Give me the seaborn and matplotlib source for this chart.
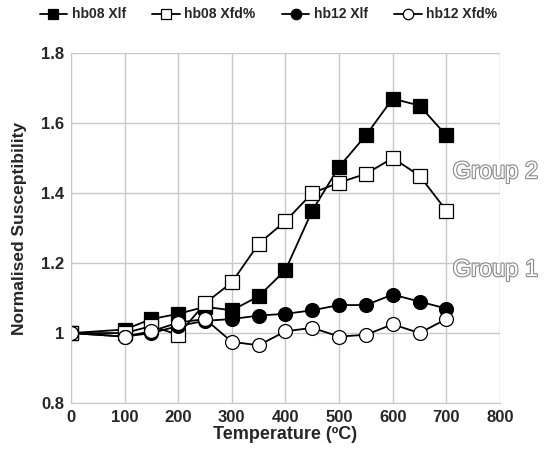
import seaborn as sns
import pandas as pd
import matplotlib.pyplot as plt
import matplotlib.patheffects as pe
from matplotlib import font_manager

# Temperaturas e valores
temps = [0, 100, 150, 200, 250, 300, 350, 400, 450, 500, 550, 600, 650, 700]
hb08_xlf = [1.0, 1.01, 1.04, 1.055, 1.075, 1.065, 1.105, 1.18, 1.35, 1.475, 1.565, 1.67, 1.65, 1.565]
hb08_xfd = [1.0, 1.0, 1.02, 0.995, 1.085, 1.145, 1.255, 1.32, 1.40, 1.43, 1.455, 1.50, 1.45, 1.35]
hb12_xlf = [1.0, 0.99, 1.0, 1.02, 1.035, 1.04, 1.05, 1.055, 1.065, 1.08, 1.08, 1.11, 1.09, 1.07]
hb12_xfd = [1.0, 0.99, 1.005, 1.03, 1.04, 0.975, 0.965, 1.005, 1.015, 0.99, 0.995, 1.025, 1.0, 1.04]

series_names = ['hb08 Xlf', 'hb08 Xfd%', 'hb12 Xlf', 'hb12 Xfd%']
x_ticks = [0, 100, 200, 300, 400, 500, 600, 700, 800]
y_ticks = [0.8, 1.0, 1.2, 1.4, 1.6, 1.8]
y_labels = ['0.8', '1', '1.2', '1.4', '1.6', '1.8']

sns.set_style('white')
plt.rcParams['font.family'] = ['Liberation Sans', 'DejaVu Sans']
plt.rcParams['font.weight'] = 'bold'

# Fonte estreita para os rótulos dos grupos, se existir
nomes_fontes = {f.name for f in font_manager.fontManager.ttflist}
fonte_grupo = 'Liberation Sans Narrow' if 'Liberation Sans Narrow' in nomes_fontes else 'Liberation Sans'

fig = plt.figure(figsize=(5.44, 4.58), dpi=100)
ax = fig.add_axes([0.1305, 0.12, 0.7885, 0.764])

estilos = [
    (hb08_xlf, 's', 'black', 10),
    (hb08_xfd, 's', 'white', 10),
    (hb12_xlf, 'o', 'black', 10),
    (hb12_xfd, 'o', 'white', 10),
]
for nome, (vals, m, fc, ms) in zip(series_names, estilos):
    dados = pd.DataFrame({'temp': temps, 'val': vals})
    sns.lineplot(x='temp', y='val', data=dados, ax=ax, color='black', linewidth=1.3,
                 marker=m, markersize=ms, markerfacecolor=fc, markeredgecolor='black',
                 markeredgewidth=0.9, label=nome)

ax.set_xlim(0, 800)
ax.set_ylim(0.8, 1.8)
ax.set_xticks(x_ticks)
ax.set_yticks(y_ticks)
ax.set_yticklabels(y_labels)
ax.grid(True, color='#c8c8c8', linewidth=1)
ax.tick_params(axis='both', labelsize=12, length=0, pad=5)
for lab in ax.get_xticklabels() + ax.get_yticklabels():
    lab.set_fontweight('bold')
for s in ['top', 'right']:
    ax.spines[s].set_visible(False)
ax.spines['left'].set_color('#c8c8c8')
ax.spines['bottom'].set_color('#c8c8c8')
ax.set_xlabel('Temperature (ºC)', fontsize=13, fontweight='bold', labelpad=1)
ax.set_ylabel('Normalised Susceptibility', fontsize=12.5, fontweight='bold', labelpad=10)

# Rótulos dos grupos com texto vazado
for txt, y in [('Group 2', 1.46), ('Group 1', 1.18)]:
    ax.text(712, y, txt, fontsize=17, fontweight='normal', family=fonte_grupo,
            color='white', ha='left', va='center', clip_on=False,
            path_effects=[pe.withStroke(linewidth=1.6, foreground='#888888')])

ax.legend(loc='lower center', bbox_to_anchor=(0.46, 1.055), ncol=4, frameon=False,
          handlelength=2.0, handletextpad=0.3, columnspacing=1.9,
          markerscale=0.75, prop={'weight': 'bold', 'size': 10})

plt.savefig('out.png', dpi=100)
